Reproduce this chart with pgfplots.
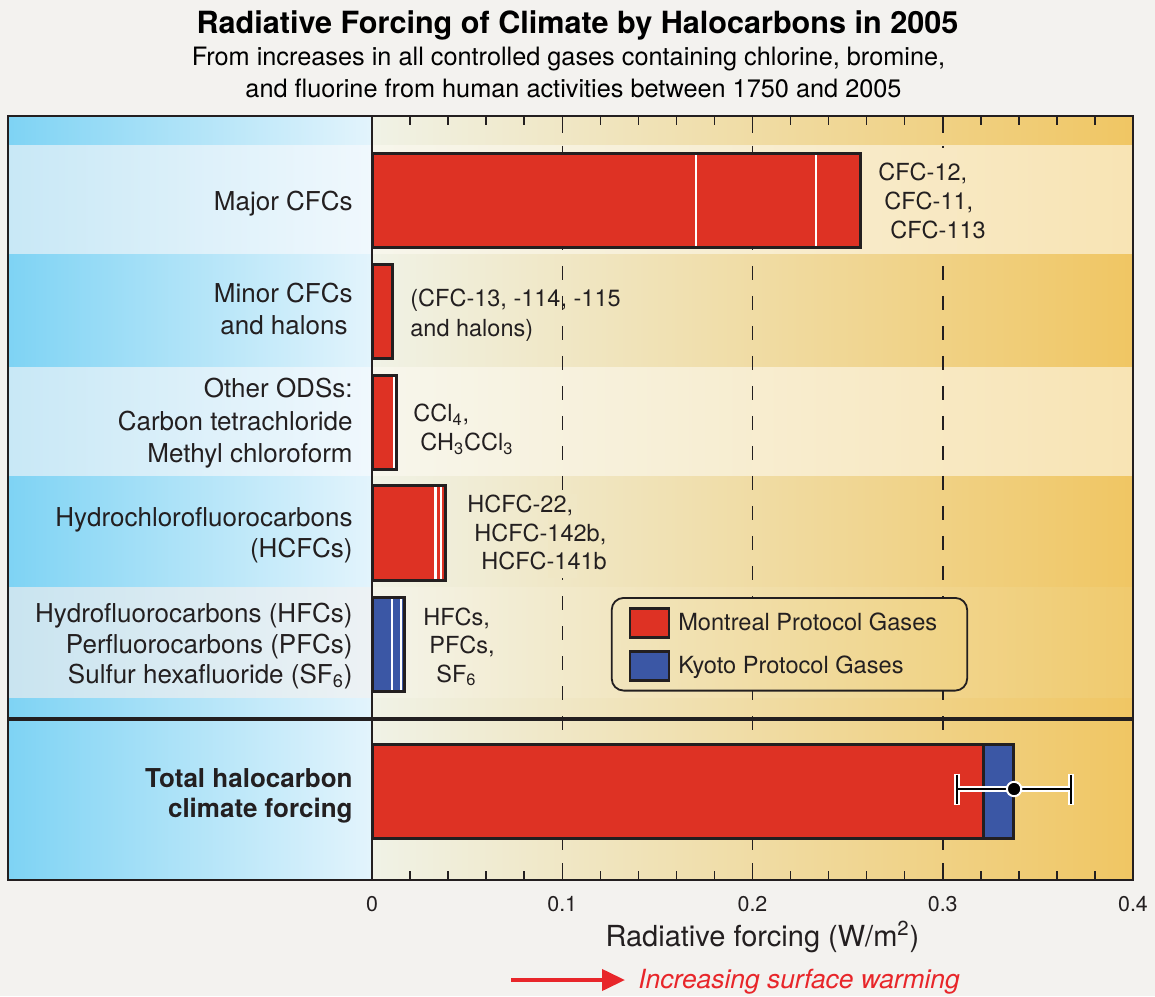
\documentclass[border=0pt]{standalone}
\usepackage{fontspec}
\setmainfont{TeX Gyre Heros}
\usepackage{pgfplots}
\pgfplotsset{compat=1.18}
\usetikzlibrary{arrows.meta}
\definecolor{pagebg}{HTML}{F3F2EF}
\definecolor{axiscol}{HTML}{231F20}
\definecolor{mred}{HTML}{DE3224}
\definecolor{kblue}{HTML}{3B57A5}
\definecolor{rdL}{HTML}{F0F2E6}
\definecolor{rdR}{HTML}{F0C663}
\definecolor{rlL}{HTML}{F7F6EC}
\definecolor{rlR}{HTML}{F8E4B4}
\definecolor{r5L}{HTML}{F3F4EA}
\definecolor{r5R}{HTML}{F0CA6D}
\definecolor{ldL}{HTML}{7ED3F4}
\definecolor{ldR}{HTML}{E3F4FC}
\definecolor{llL}{HTML}{C8E8F6}
\definecolor{llR}{HTML}{F0F8FD}
\definecolor{l5L}{HTML}{C9E4F0}
\definecolor{l5R}{HTML}{EDF2F4}
\definecolor{lgL}{HTML}{F1E5BE}
\definecolor{lgR}{HTML}{F0D283}
\definecolor{warm}{HTML}{E8262A}
\newcommand{\fs}[2]{\fontsize{#1}{#2}\selectfont}
\pgfplotsset{
  basebar/.style={forget plot, xbar, bar shift=0pt, bar width=94, fill=#1, draw=none},
  segbar/.style={forget plot, xbar, bar shift=0pt, bar width=94, fill=#1, draw=white, line width=1.2pt},
  outbar/.style={forget plot, xbar, bar shift=0pt, bar width=94, fill=none, draw=axiscol, line width=1.5pt},
  fullbar/.style={forget plot, xbar, bar shift=0pt, bar width=94, fill=#1, draw=axiscol, line width=1.5pt},
}
\tikzset{
  lbl/.style={inner sep=0pt, text=axiscol, anchor=base east, font=\fs{13}{16}},
  blbl/.style={inner sep=0pt, text=axiscol, anchor=base east, font=\bfseries\fs{13}{16}},
  rlbl/.style={inner sep=0pt, text=axiscol, anchor=base west, font=\fs{11.75}{14}},
}
\begin{document}
\begin{tikzpicture}
\begin{axis}[
  set layers,
  scale only axis, width=380.5pt, height=382pt,
  xmin=0, xmax=0.4, ymin=116, ymax=880, y dir=reverse,
  clip=false,
  axis line style={line width=1.3pt, draw=axiscol},
  xtick={0,0.1,0.2,0.3,0.4}, xticklabels={0,0.1,0.2,0.3,0.4},
  minor x tick num=4,
  ytick=\empty,
  xtick pos=both,
  tick align=inside,
  major tick length=8.5pt, minor tick length=4.5pt,
  tick style={axiscol, line width=0.75pt},
  xmajorgrids,
  major grid style={axiscol, line width=0.75pt, dash pattern=on 7pt off 8pt},
  xticklabel style={font=\fs{10.7}{12}, text=axiscol, yshift=-4.5pt},
  /pgf/number format/assume math mode=true,
  legend cell align=left,
  legend style={at={(axis cs:0.12552,597)}, anchor=north west,
    draw=axiscol, line width=0.9pt, rounded corners=6pt,
    left color=lgL, right color=lgR,
    font=\fs{11.8}{14}, text=axiscol,
    inner xsep=8.5pt, inner ysep=4.5pt, row sep=5.75pt,
    nodes={inner sep=2pt},
    /tikz/every odd column/.append style={column sep=2pt}},
]
\begin{pgfonlayer}{axis background}
\fill[pagebg] (axis cs:-0.195532,0) rectangle (axis cs:0.411564,996);
% right panel bands
\shade[left color=rdL, right color=rdR] (axis cs:0,116) rectangle (axis cs:0.4,146);
\shade[left color=rlL, right color=rlR] (axis cs:0,146) rectangle (axis cs:0.4,255);
\shade[left color=rdL, right color=rdR] (axis cs:0,255) rectangle (axis cs:0.4,368);
\shade[left color=rlL, right color=rlR] (axis cs:0,368) rectangle (axis cs:0.4,477);
\shade[left color=rdL, right color=rdR] (axis cs:0,477) rectangle (axis cs:0.4,587);
\shade[left color=r5L, right color=r5R] (axis cs:0,587) rectangle (axis cs:0.4,698);
\shade[left color=rdL, right color=rdR] (axis cs:0,698) rectangle (axis cs:0.4,880);
% left panel bands
\shade[left color=ldL, right color=ldR] (axis cs:-0.191327,116) rectangle (axis cs:0,146);
\shade[left color=llL, right color=llR] (axis cs:-0.191327,146) rectangle (axis cs:0,255);
\shade[left color=ldL, right color=ldR] (axis cs:-0.191327,255) rectangle (axis cs:0,368);
\shade[left color=llL, right color=llR] (axis cs:-0.191327,368) rectangle (axis cs:0,477);
\shade[left color=ldL, right color=ldR] (axis cs:-0.191327,477) rectangle (axis cs:0,587);
\shade[left color=l5L, right color=l5R] (axis cs:-0.191327,587) rectangle (axis cs:0,698);
\shade[left color=ldL, right color=ldR] (axis cs:-0.191327,698) rectangle (axis cs:0,880);
\end{pgfonlayer}

% label backgrounds hiding the dashed grid behind the right-hand labels
\fill[color={rgb,255:red,248;green,232;blue,195}] (axis cs:0.2925,148) rectangle (axis cs:0.3075,253);
\fill[color={rgb,255:red,240;green,231;blue,197}] (axis cs:0.0925,494) rectangle (axis cs:0.1075,578);

% ---- category bars (cumulative segment ends, W/m^2) ----
\addplot[basebar=mred] coordinates {(0.2568,200.5) (0.0108,311.7) (0.0131,423) (0.0386,533)};
\addplot[basebar=kblue] coordinates {(0.0169,644)};
\addplot[segbar=mred] coordinates {(0.2334,200.5) (0.0364,533)};
\addplot[segbar=mred] coordinates {(0.1703,200.5) (0.0119,423) (0.0333,533)};
\addplot[segbar=kblue] coordinates {(0.0151,644)};
\addplot[segbar=kblue] coordinates {(0.0105,644)};
\addplot[outbar] coordinates {(0.2568,200.5) (0.0108,311.7) (0.0131,423) (0.0386,533) (0.0169,644)};

% ---- total ----
\addplot[fullbar=kblue] coordinates {(0.3370,791.5)};
\addplot[fullbar=mred] coordinates {(0.3215,791.5)};

% error bar (0.3375 +- 0.03)
\addplot[forget plot, white, line width=2.9pt] coordinates {(0.3074,789) (0.3674,789)};
\addplot[forget plot, white, line width=2.9pt] coordinates {(0.3074,773.5) (0.3074,804.5)};
\addplot[forget plot, white, line width=2.9pt] coordinates {(0.3674,773.5) (0.3674,804.5)};
\addplot[forget plot, black, line width=1.3pt] coordinates {(0.3074,789) (0.3674,789)};
\addplot[forget plot, black, line width=1.3pt] coordinates {(0.3074,774.5) (0.3074,803.5)};
\addplot[forget plot, black, line width=1.3pt] coordinates {(0.3674,774.5) (0.3674,803.5)};
\addplot[forget plot, only marks, mark=*, mark size=3.6pt, mark options={fill=black, draw=white, line width=1pt}] coordinates {(0.3375,789)};

% legend
\addlegendimage{legend image code/.code={\draw[sharp corners, fill=mred, draw=axiscol, line width=1.3pt] (0pt,-7.25pt) rectangle (19.5pt,7.25pt);}}
\addlegendentry{Montreal Protocol Gases\kern4.5pt}
\addlegendimage{legend image code/.code={\draw[sharp corners, fill=kblue, draw=axiscol, line width=1.3pt] (0pt,-7.25pt) rectangle (19.5pt,7.25pt);}}
\addlegendentry{Kyoto Protocol Gases}

% frames
\draw[axiscol, line width=1.3pt] (axis cs:-0.191327,116) rectangle (axis cs:0,880);
\draw[axiscol, line width=1.7pt] (axis cs:-0.191327,719) -- (axis cs:0.4,719);

% left labels
\node[lbl] at (axis cs:-0.009987,211) {Major CFCs};
\node[lbl] at (axis cs:-0.009987,303) {Minor CFCs};
\node[lbl] at (axis cs:-0.012615,335) {and halons};
\node[lbl] at (axis cs:-0.009987,398) {Other ODSs:};
\node[lbl] at (axis cs:-0.009987,431) {Carbon tetrachloride};
\node[lbl] at (axis cs:-0.009987,463) {Methyl chloroform};
\node[lbl] at (axis cs:-0.009987,527) {Hydrochlorofluorocarbons};
\node[lbl] at (axis cs:-0.009987,558) {(HCFCs)};
\node[lbl] at (axis cs:-0.009987,622) {Hydrofluorocarbons (HFCs)};
\node[lbl] at (axis cs:-0.009987,653) {Perfluorocarbons (PFCs)};
\node[lbl] at (axis cs:-0.009987,683) {Sulfur hexafluoride (SF\textsubscript{6})};
\node[blbl] at (axis cs:-0.009987,787) {Total halocarbon};
\node[blbl] at (axis cs:-0.009987,817) {climate forcing};

% right labels
\node[rlbl] at (axis cs:0.265966,181) {CFC-12,};
\node[rlbl] at (axis cs:0.269120,210) {CFC-11,};
\node[rlbl] at (axis cs:0.272273,239) {CFC-113};
\node[rlbl] at (axis cs:0.019974,307) {(CFC-13, -114, -115};
\node[rlbl] at (axis cs:0.019974,337) {and halons)};
\node[rlbl] at (axis cs:0.021551,422) {CCl\textsubscript{4},};
\node[rlbl] at (axis cs:0.025230,451) {CH\textsubscript{3}CCl\textsubscript{3}};
\node[rlbl] at (axis cs:0.049934,513) {HCFC-22,};
\node[rlbl] at (axis cs:0.053614,542) {HCFC-142b,};
\node[rlbl] at (axis cs:0.057293,570) {HCFC-141b};
\node[rlbl] at (axis cs:0.026807,625) {HFCs,};
\node[rlbl] at (axis cs:0.029961,653) {PFCs,};
\node[rlbl] at (axis cs:0.033640,682) {SF\textsubscript{6}};

% titles
\node[anchor=base, inner sep=0pt, text=black, font=\bfseries\fs{15.3}{18}] at (axis cs:0.108016,34) {Radiative Forcing of Climate by Halocarbons in 2005};
\node[anchor=base, inner sep=0pt, text=black, font=\fs{12.65}{15}] at (axis cs:0.103285,66) {From increases in all controlled gases containing chlorine, bromine,};
\node[anchor=base, inner sep=0pt, text=black, font=\fs{12.65}{15}] at (axis cs:0.105913,98) {and fluorine from human activities between 1750 and 2005};

% axis title and arrow
\node[anchor=base, inner sep=0pt, text=axiscol, font=\fs{14.5}{17}] at (axis cs:0.205256,946) {Radiative forcing (W/m\textsuperscript{2})};
\draw[warm, line width=2pt, -{Triangle[length=11.5pt,width=10.5pt]}] (axis cs:0.073062,980) -- (axis cs:0.132983,980);
\node[anchor=base west, inner sep=0pt, text=warm, font=\itshape\fs{13.2}{16}] at (axis cs:0.139816,988) {Increasing surface warming};
\end{axis}
\end{tikzpicture}
\end{document}
